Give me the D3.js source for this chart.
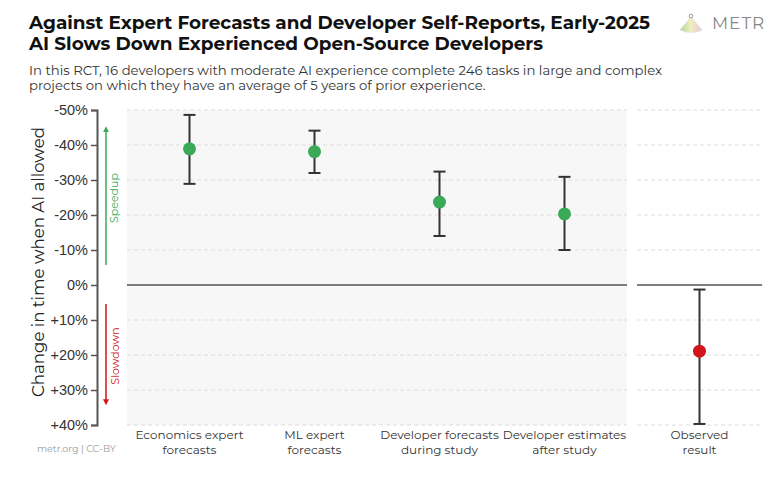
<!DOCTYPE html>
<html>
<head>
<meta charset="utf-8">
<script src="https://cdn.jsdelivr.net/npm/d3@7"></script>
<style>
  body { margin: 0; background: #fff; }
  svg { font-family: "Montserrat", "DejaVu Sans", sans-serif; }
</style>
</head>
<body>
<svg width="773" height="485"></svg>
<script>
// Data (percent change in completion time)
const forecastLabels = [
  ["Economics expert", "forecasts"],
  ["ML expert", "forecasts"],
  ["Developer forecasts", "during study"],
  ["Developer estimates", "after study"]
];
const forecastValues = [-38.9, -38.1, -23.7, -20.3];
const forecastLow = [-48.6, -44.1, -32.4, -30.9];
const forecastHigh = [-28.9, -32.0, -14.0, -10.0];

const observedLabels = [["Observed", "result"]];
const observedValues = [18.9];
const observedLow = [1.3];
const observedHigh = [39.7];

const yTicks = [-50, -40, -30, -20, -10, 0, 10, 20, 30, 40];

const svg = d3.select("svg");

// Scales
const y = d3.scaleLinear().domain([-50, 40]).range([110, 425]);
const xMain = d3.scaleBand().domain(d3.range(forecastValues.length)).range([127, 627]);
const xObs = d3.scaleBand().domain(d3.range(observedValues.length)).range([637, 762]);

const fmt = d => d === 0 ? "0%" : (d < 0 ? d + "%" : "+" + d + "%");

// fit a text element to a target width by scaling the font size
function fitWidth(sel, w) {
  const node = sel.node();
  const cur = node.getComputedTextLength();
  const fs = parseFloat(sel.attr("font-size"));
  sel.attr("font-size", (fs * w / cur).toFixed(2));
}

// Title
const t1 = svg.append("text").attr("x", 29).attr("y", 29).attr("font-size", 19)
  .attr("font-weight", "bold").attr("fill", "#111")
  .text("Against Expert Forecasts and Developer Self-Reports, Early-2025");
fitWidth(t1, 621);
svg.append("text").attr("x", 29).attr("y", 50).attr("font-size", t1.attr("font-size"))
  .attr("font-weight", "bold").attr("fill", "#111")
  .text("AI Slows Down Experienced Open-Source Developers");

const s1 = svg.append("text").attr("x", 29).attr("y", 75).attr("font-size", 13).attr("fill", "#333")
  .text("In this RCT, 16 developers with moderate AI experience complete 246 tasks in large and complex");
fitWidth(s1, 633);
svg.append("text").attr("x", 29).attr("y", 89.5).attr("font-size", s1.attr("font-size")).attr("fill", "#333")
  .text("projects on which they have an average of 5 years of prior experience.");

// Logo
const defs = svg.append("defs");
const grad = defs.append("linearGradient").attr("id", "fan").attr("x1", "0").attr("x2", "1");
grad.append("stop").attr("offset", "0").attr("stop-color", "#a9d89a");
grad.append("stop").attr("offset", "0.5").attr("stop-color", "#f3efc0");
grad.append("stop").attr("offset", "1").attr("stop-color", "#e9c4dc");
svg.append("path")
  .attr("d", "M691,17 L680,30 Q691,35 702,30 Z")
  .attr("fill", "url(#fan)").attr("stroke", "#ddd").attr("stroke-width", 0.6);
svg.append("circle").attr("cx", 691).attr("cy", 16).attr("r", 1.8)
  .attr("fill", "#fff").attr("stroke", "#999").attr("stroke-width", 1);
const logo = svg.append("text").attr("x", 712).attr("y", 29).attr("font-size", 18)
  .attr("fill", "#888").attr("letter-spacing", 1).text("METR");
fitWidth(logo, 53);

// Panel background
svg.append("rect").attr("x", 127).attr("y", y(-50)).attr("width", 500)
  .attr("height", y(40) - y(-50)).attr("fill", "#f7f7f7");

// Gridlines
[[127, 627], [637, 762]].forEach(([a, b]) => {
  svg.append("g").selectAll("line").data(yTicks.filter(d => d !== 0)).join("line")
    .attr("x1", a).attr("x2", b).attr("y1", d => y(d)).attr("y2", d => y(d))
    .attr("stroke", "#ddd").attr("stroke-width", 1).attr("stroke-dasharray", "4,3");
  svg.append("line").attr("x1", a).attr("x2", b).attr("y1", y(0)).attr("y2", y(0))
    .attr("stroke", "#555").attr("stroke-width", 1.5);
});

// Y axis
const yAxis = svg.append("g").attr("transform", "translate(97,0)")
  .call(d3.axisLeft(y).tickValues(yTicks).tickFormat(fmt).tickSize(6).tickPadding(3));
yAxis.select(".domain").attr("stroke", "#555").attr("stroke-width", 2);
yAxis.selectAll(".tick line").attr("stroke", "#555").attr("stroke-width", 1.5);
yAxis.selectAll(".tick text").attr("font-size", 14.5).attr("fill", "#333")
  .attr("font-family", "inherit");

const yl = svg.append("text")
  .attr("transform", "translate(44,262) rotate(-90)")
  .attr("text-anchor", "middle").attr("font-size", 17).attr("fill", "#222")
  .text("Change in time when AI allowed");
fitWidth(yl, 270);

// Speedup / slowdown arrows
const green = "#3aaa58", red = "#d0161b";
defs.append("marker").attr("id", "ag").attr("viewBox", "0 0 10 10").attr("refX", 5).attr("refY", 5)
  .attr("markerWidth", 4).attr("markerHeight", 4).attr("orient", "auto")
  .append("path").attr("d", "M0,0 L10,5 L0,10 Z").attr("fill", green);
defs.append("marker").attr("id", "ar").attr("viewBox", "0 0 10 10").attr("refX", 5).attr("refY", 5)
  .attr("markerWidth", 4).attr("markerHeight", 4).attr("orient", "auto")
  .append("path").attr("d", "M0,0 L10,5 L0,10 Z").attr("fill", red);
svg.append("line").attr("x1", 106).attr("x2", 106).attr("y1", y(-5.7)).attr("y2", y(-44.5))
  .attr("stroke", green).attr("stroke-width", 1.5).attr("marker-end", "url(#ag)");
svg.append("line").attr("x1", 106).attr("x2", 106).attr("y1", y(5.4)).attr("y2", y(33.5))
  .attr("stroke", red).attr("stroke-width", 1.5).attr("marker-end", "url(#ar)");
svg.append("text").attr("transform", "translate(118,198) rotate(-90)")
  .attr("text-anchor", "middle").attr("font-size", 11).attr("fill", green).text("Speedup");
svg.append("text").attr("transform", "translate(119,356) rotate(-90)")
  .attr("text-anchor", "middle").attr("font-size", 11).attr("fill", red).text("Slowdown");

// Error bars and points
function drawSeries(x, vals, lo, hi, labels, color) {
  const g = svg.append("g");
  const cx = i => x(i) + x.bandwidth() / 2;
  g.selectAll(".bar").data(vals).join("line")
    .attr("x1", (d, i) => cx(i)).attr("x2", (d, i) => cx(i))
    .attr("y1", (d, i) => y(lo[i])).attr("y2", (d, i) => y(hi[i]))
    .attr("stroke", "#333").attr("stroke-width", 2);
  [lo, hi].forEach(arr => {
    g.selectAll(null).data(arr).join("line")
      .attr("x1", (d, i) => cx(i) - 6).attr("x2", (d, i) => cx(i) + 6)
      .attr("y1", d => y(d)).attr("y2", d => y(d))
      .attr("stroke", "#333").attr("stroke-width", 2);
  });
  g.selectAll("circle").data(vals).join("circle")
    .attr("cx", (d, i) => cx(i)).attr("cy", d => y(d)).attr("r", 6.5).attr("fill", color);
  labels.forEach((lines, i) => {
    const t = svg.append("text").attr("text-anchor", "middle").attr("font-size", 12)
      .attr("fill", "#333");
    lines.forEach((l, j) => t.append("tspan").attr("x", cx(i)).attr("y", 439 + j * 14.5).text(l));
  });
}
drawSeries(xMain, forecastValues, forecastLow, forecastHigh, forecastLabels, green);
drawSeries(xObs, observedValues, observedLow, observedHigh, observedLabels, red);

// Footer
svg.append("text").attr("x", 37).attr("y", 452).attr("font-size", 9.5).attr("fill", "#999")
  .text("metr.org  |  CC-BY");
</script>
</body>
</html>
